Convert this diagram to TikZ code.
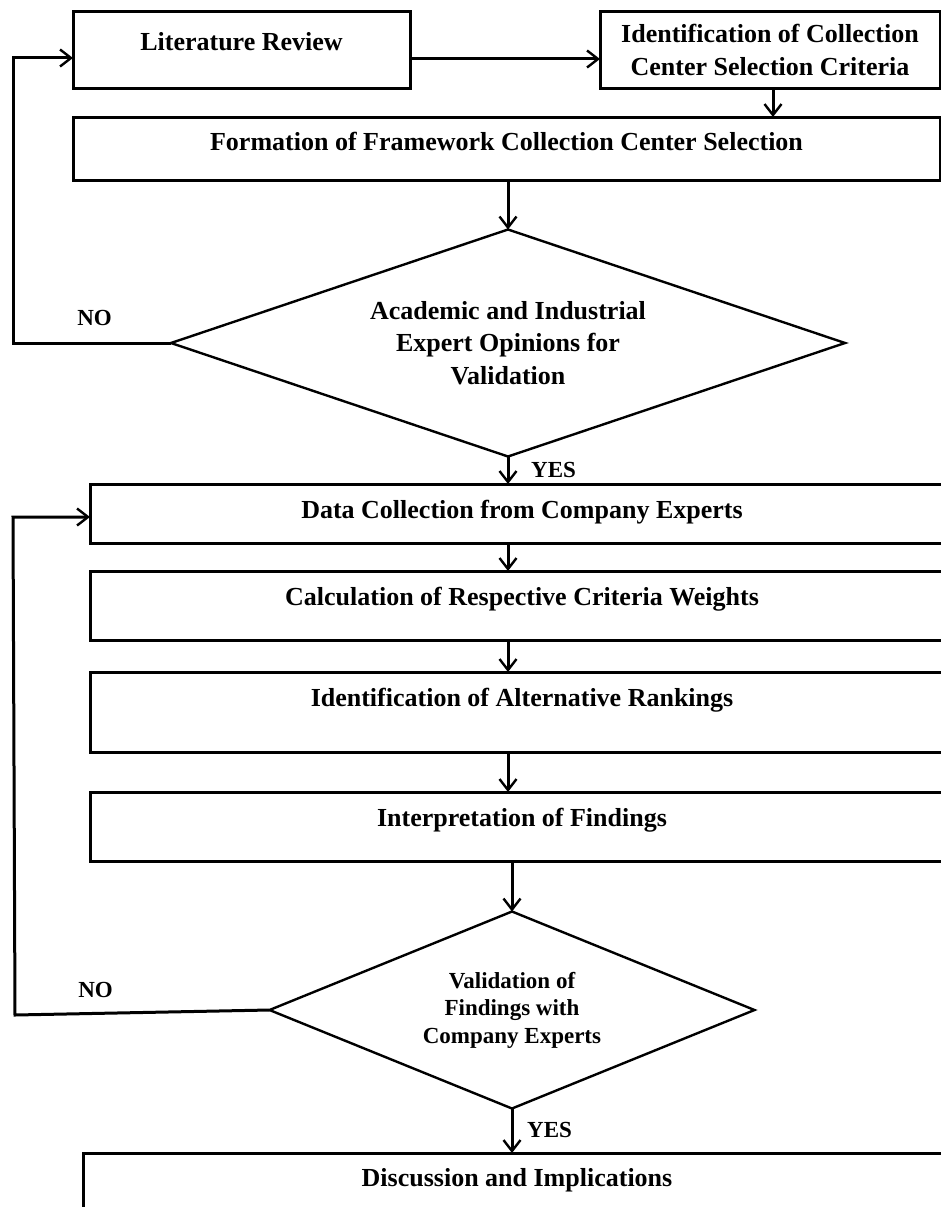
\documentclass[tikz,border=0pt]{standalone}
\usepackage{fontspec}
\setmainfont{Liberation Serif}
\usetikzlibrary{arrows.meta}
\begin{document}
\begin{tikzpicture}[x=1pt,y=-1pt,
  box/.style={draw,line width=3pt,rectangle,inner sep=0pt,outer sep=0pt,anchor=north west,font=\bfseries\fontsize{26}{33}\selectfont},
  dec/.style={rectangle,inner sep=0pt,outer sep=0pt},
  decline/.style={line width=2.4pt,line join=miter},
  conn/.style={line width=3pt,-{Straight Barb[length=11pt,width=17pt,line width=2.4pt]}},
  lbl/.style={font=\bfseries\fontsize{23}{27}\selectfont,inner sep=0pt}]
\useasboundingbox (0,0) rectangle (941,1207);
\clip (0,0) rectangle (941,1207);
\fill[white] (0,0) rectangle (941,1207);

\node[box,minimum width=337pt,text height=38.5pt,text depth=37.5pt] (lit) at (73,12) {Literature Review};
\node[box,minimum width=340pt,minimum height=76pt,align=center] (idc) at (600,12) {Identification of Collection\\Center Selection Criteria};
\node[box,minimum width=867pt,text height=33.5pt,text depth=29.5pt] (form) at (73,117) {Formation of Framework Collection Center Selection};
\node[dec,minimum width=674pt,minimum height=227pt,align=center,font=\bfseries\fontsize{26}{32.5}\selectfont] (d1) at (508,343) {Academic and Industrial\\Expert Opinions for\\Validation};
\draw[decline] (d1.north) -- (d1.east) -- (d1.south) -- (d1.west) -- cycle;
\node[box,minimum width=864pt,text height=34.5pt,text depth=24.5pt] (data) at (90,484) {Data Collection from Company Experts};
\node[box,minimum width=864pt,text height=34.5pt,text depth=34.5pt] (calc) at (90,571) {Calculation of Respective Criteria Weights};
\node[box,minimum width=864pt,text height=34.5pt,text depth=45.5pt] (rank) at (90,672) {Identification of Alternative Rankings};
\node[box,minimum width=864pt,text height=34.5pt,text depth=34.5pt] (interp) at (90,792) {Interpretation of Findings};
\node[dec,minimum width=485pt,minimum height=197pt,align=center,font=\bfseries\fontsize{23}{27.5}\selectfont] (d2) at (512,1010) {Validation of\\Findings with\\Company Experts};
\draw[decline] (d2.north) -- (d2.east) -- (d2.south) -- (d2.west) -- cycle;
\node[box,minimum width=868pt,text height=33.5pt,text depth=80pt] (disc) at (83,1153) {Discussion and Implications};

\node[lbl] (no1) at (94.5,318) {NO};
\node[lbl] (no2) at (95.5,990) {NO};
\node[lbl,anchor=west] (yes1) at (531,470) {YES};
\node[lbl,anchor=west] (yes2) at (527,1130) {YES};

\draw[conn] ([yshift=-9pt]lit.east) -- ([yshift=-9pt]idc.west);
\draw[conn] ([xshift=3pt]idc.south) -- ([xshift=3pt]idc.south |- form.north);
\draw[conn] (d1.north |- form.south) -- (d1.north);
\draw[conn] (d1.south) -- (d1.south |- data.north);
\draw[conn] (data.south -| d1.south) -- (calc.north -| d1.south);
\draw[conn] (calc.south -| d1.south) -- (rank.north -| d1.south);
\draw[conn] (rank.south -| d1.south) -- (interp.north -| d1.south);
\draw[conn] (d2.north |- interp.south) -- (d2.north);
\draw[conn] (d2.south) -- (d2.south |- disc.north);

\coordinate (lp1) at (13,58);
\draw[conn] (d1.west) -| (lp1) -- ([yshift=-8pt]lit.west);
\coordinate (lp2a) at (15,1015);
\coordinate (lp2b) at (13,517);
\draw[conn] (d2.west) -- (lp2a) -- (lp2b) -- (lp2b -| data.west);
\end{tikzpicture}
\end{document}
